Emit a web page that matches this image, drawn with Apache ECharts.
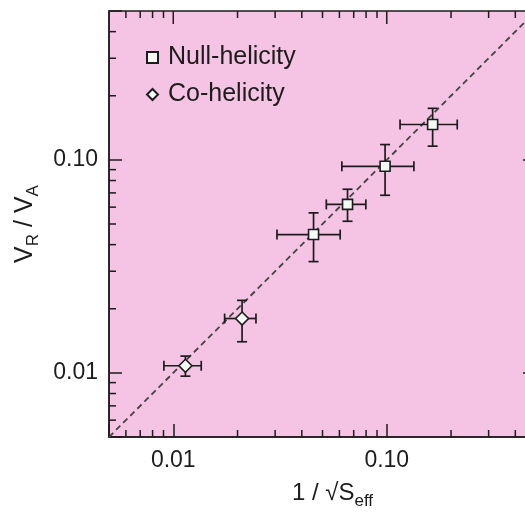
<!DOCTYPE html>
<html>
<head>
<meta charset="utf-8">
<script src="https://cdn.jsdelivr.net/npm/echarts@6/dist/echarts.min.js"></script>
<style>
  html, body { margin: 0; padding: 0; background: #fff; }
  #chart { width: 525px; height: 512px; }
</style>
</head>
<body>
<div id="chart"></div>
<script>
// null-helicity points (square markers)
const nullX = [0.0454, 0.0655, 0.0982, 0.164];
const nullY = [0.0446, 0.0618, 0.0933, 0.1466];
const nullXLo = [0.0306, 0.0521, 0.0616, 0.1154];
const nullXHi = [0.0605, 0.0798, 0.134, 0.2138];
const nullYLo = [0.0333, 0.0515, 0.0682, 0.116];
const nullYHi = [0.0564, 0.0728, 0.118, 0.1746];

// co-helicity points (diamond markers)
const coX = [0.0114, 0.021];
const coY = [0.0108, 0.018];
const coXLo = [0.00904, 0.0174];
const coXHi = [0.01352, 0.0244];
const coYLo = [0.00965, 0.014];
const coYHi = [0.01199, 0.0219];

// axes
const axisMin = 0.005;
const axisMax = 0.5;
const tickValues = [0.01, 0.1];
const tickLabels = ['0.01', '0.10'];
const minorValues = [0.006, 0.007, 0.008, 0.009, 0.02, 0.03, 0.04, 0.05, 0.06, 0.07, 0.08, 0.09, 0.2, 0.3, 0.4];

const font = 'Liberation Sans, Arial, sans-serif';
const ink = '#1c1c1c';

function fmtTick(v) {
  for (let i = 0; i < tickValues.length; i++) {
    if (Math.abs(v - tickValues[i]) / tickValues[i] < 1e-6) return tickLabels[i];
  }
  return '';
}

function errRows(x, y, xlo, xhi, ylo, yhi) {
  return x.map((v, i) => [v, y[i], xlo[i], xhi[i], ylo[i], yhi[i]]);
}

// every tick (minor + major) for all four sides
const tickList = [];
minorValues.forEach(v => ['b', 't', 'l', 'r'].forEach(s => tickList.push({ v: v, side: s, len: 7 })));
tickValues.forEach(v => ['t', 'r'].forEach(s => tickList.push({ v: v, side: s, len: 13 })));

function renderTick(params, api) {
  const t = tickList[params.dataIndex];
  const cs = params.coordSys;
  let x1, y1, x2, y2;
  if (t.side === 'b' || t.side === 't') {
    const px = api.coord([t.v, 0.01])[0];
    x1 = x2 = px;
    y1 = t.side === 'b' ? cs.y + cs.height : cs.y;
    y2 = t.side === 'b' ? y1 - t.len : y1 + t.len;
  } else {
    const py = api.coord([0.01, t.v])[1];
    y1 = y2 = py;
    x1 = t.side === 'l' ? cs.x : cs.x + cs.width;
    x2 = t.side === 'l' ? x1 + t.len : x1 - t.len;
  }
  return {
    type: 'line',
    shape: { x1: x1, y1: y1, x2: x2, y2: y2 },
    style: { stroke: ink, lineWidth: 1.5 }
  };
}

function renderErr(params, api) {
  const c = api.coord([api.value(0), api.value(1)]);
  const xl = api.coord([api.value(2), api.value(1)])[0];
  const xh = api.coord([api.value(3), api.value(1)])[0];
  const yl = api.coord([api.value(0), api.value(4)])[1];
  const yh = api.coord([api.value(0), api.value(5)])[1];
  const cap = 5;
  const st = { stroke: ink, lineWidth: 1.7 };
  const ln = (a, b, d, e) => ({ type: 'line', shape: { x1: a, y1: b, x2: d, y2: e }, style: st });
  return {
    type: 'group',
    children: [
      ln(xl, c[1], xh, c[1]),
      ln(xl, c[1] - cap, xl, c[1] + cap),
      ln(xh, c[1] - cap, xh, c[1] + cap),
      ln(c[0], yl, c[0], yh),
      ln(c[0] - cap, yl, c[0] + cap, yl),
      ln(c[0] - cap, yh, c[0] + cap, yh)
    ]
  };
}

const chart = echarts.init(document.getElementById('chart'));

chart.setOption({
  animation: false,
  backgroundColor: '#ffffff',
  textStyle: { fontFamily: font, color: ink },
  grid: {
    left: 109, top: 11, width: 427, height: 426,
    show: true, backgroundColor: '#f5c4e5',
    borderColor: ink, borderWidth: 1.5,
    containLabel: false, outerBoundsMode: 'none'
  },
  legend: {
    data: ['Null-helicity', 'Co-helicity'],
    orient: 'vertical',
    left: 146, top: 44,
    padding: 0,
    itemWidth: 11, itemHeight: 11, itemGap: 10,
    selectedMode: false,
    textStyle: { fontFamily: font, fontSize: 25, color: ink, lineHeight: 27, padding: [0, 0, 0, 5] }
  },
  xAxis: {
    type: 'log', logBase: 10, min: axisMin, max: axisMax,
    axisLine: { show: true, lineStyle: { color: ink, width: 1.5 } },
    axisTick: { show: true, inside: true, length: 13, lineStyle: { color: ink, width: 1.5 } },
    splitLine: { show: false },
    axisLabel: { formatter: fmtTick, fontSize: 23, color: ink, margin: 12, fontFamily: font },
    name: '{n|1 / √S}{sub|eff}',
    nameLocation: 'middle', nameGap: 44,
    nameTextStyle: {
      padding: [0, 0, 0, 20],
      rich: {
        n: { fontSize: 24, fontFamily: font, color: ink, lineHeight: 27, verticalAlign: 'top' },
        sub: { fontSize: 17, fontFamily: font, color: ink, lineHeight: 17, padding: [12, 0, 0, 0], verticalAlign: 'top' }
      }
    }
  },
  yAxis: {
    type: 'log', logBase: 10, min: axisMin, max: axisMax,
    axisLine: { show: true, lineStyle: { color: ink, width: 1.5 } },
    axisTick: { show: true, inside: true, length: 13, lineStyle: { color: ink, width: 1.5 } },
    splitLine: { show: false },
    axisLabel: { formatter: fmtTick, fontSize: 23, color: ink, margin: 11, fontFamily: font },
    name: '{n|V}{sub|R}{n| / V}{sub|A}',
    nameLocation: 'middle', nameGap: 68,
    nameTextStyle: {
      rich: {
        n: { fontSize: 25, fontFamily: font, color: ink, lineHeight: 28, verticalAlign: 'top' },
        sub: { fontSize: 17, fontFamily: font, color: ink, lineHeight: 17, padding: [12, 0, 0, 0], verticalAlign: 'top' }
      }
    }
  },
  series: [
    {
      name: 'fit',
      type: 'line',
      data: [[axisMin, axisMin], [axisMax, axisMax]],
      symbol: 'none',
      silent: true,
      z: 1,
      lineStyle: { color: '#444', width: 1.8, type: [6, 4] }
    },
    {
      name: 'ticks',
      type: 'custom',
      data: tickList.map(t => [t.v, t.v]),
      renderItem: renderTick,
      silent: true,
      clip: false,
      z: 4
    },
    {
      name: 'nullErr',
      type: 'custom',
      data: errRows(nullX, nullY, nullXLo, nullXHi, nullYLo, nullYHi),
      renderItem: renderErr,
      silent: true,
      z: 2
    },
    {
      name: 'coErr',
      type: 'custom',
      data: errRows(coX, coY, coXLo, coXHi, coYLo, coYHi),
      renderItem: renderErr,
      silent: true,
      z: 2
    },
    {
      name: 'Null-helicity',
      type: 'scatter',
      data: nullX.map((v, i) => [v, nullY[i]]),
      symbol: 'rect',
      symbolSize: 10,
      z: 3,
      itemStyle: { color: '#f4faf4', borderColor: ink, borderWidth: 1.6, opacity: 1 }
    },
    {
      name: 'Co-helicity',
      type: 'scatter',
      data: coX.map((v, i) => [v, coY[i]]),
      symbol: 'diamond',
      symbolSize: 13,
      z: 3,
      itemStyle: { color: '#f4faf4', borderColor: ink, borderWidth: 1.6, opacity: 1 }
    }
  ]
});
</script>
</body>
</html>
